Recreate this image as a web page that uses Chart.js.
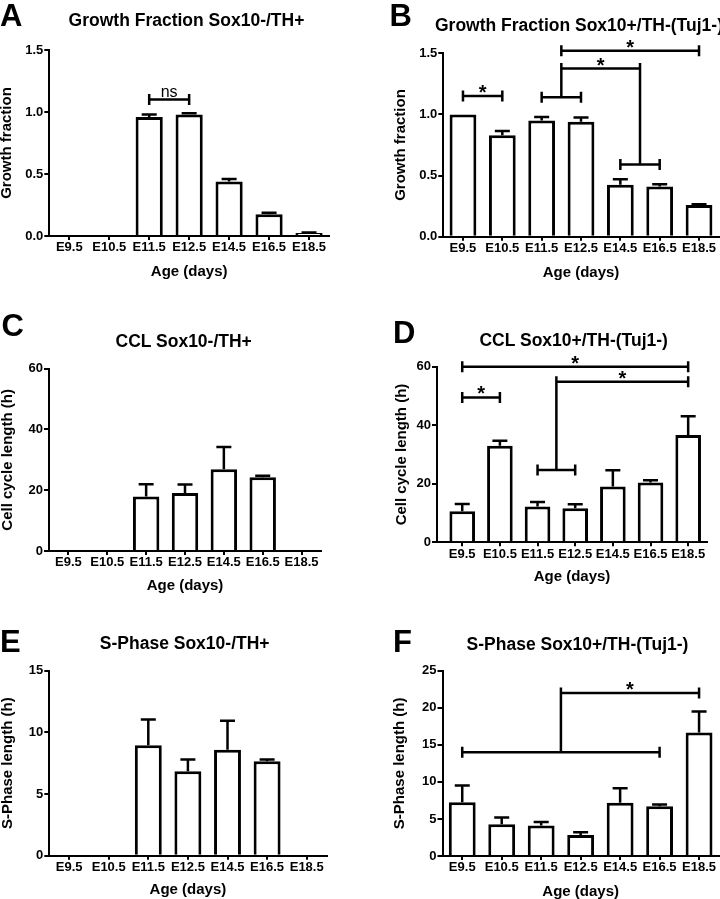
<!DOCTYPE html>
<html>
<head>
<meta charset="utf-8">
<script src="https://cdn.jsdelivr.net/npm/chart.js@4.4.1/dist/chart.umd.min.js"></script>
<style>
  html, body { margin: 0; padding: 0; background: #fff; }
  #fig { position: relative; width: 720px; height: 899px; overflow: hidden; font-family: "Liberation Sans", Arial, sans-serif; color: #000; }
  #fig canvas { position: absolute; }
  .letter { position: absolute; font-weight: bold; font-size: 31px; line-height: 1; }
  .title { position: absolute; font-weight: bold; font-size: 17.5px; line-height: 1; white-space: nowrap; }
</style>
</head>
<body>
<div id="fig"></div>
<script>
// categories
const ages = ["E9.5", "E10.5", "E11.5", "E12.5", "E14.5", "E16.5", "E18.5"];
const xTitle = "Age (days)";

// growth fraction (mean, sem)
const gfThMean = [null, null, 0.96, 0.98, 0.44, 0.175, 0.025];
const gfThSem = [null, null, 0.02, 0.01, 0.02, 0.012, 0.003];
const gfSoxMean = [1.0, 0.83, 0.95, 0.94, 0.425, 0.41, 0.26];
const gfSoxSem = [0, 0.035, 0.03, 0.035, 0.045, 0.018, 0.006];

// cell cycle length (h)
const cclThMean = [null, null, 17.9, 19.1, 26.9, 24.3, null];
const cclThSem = [null, null, 4.1, 2.8, 7.3, 0.5, null];
const cclSoxMean = [10.6, 33.0, 12.2, 11.6, 19.1, 20.4, 36.7];
const cclSoxSem = [2.5, 1.7, 1.6, 1.4, 5.5, 0.8, 6.4];

// S-phase length (h)
const sThMean = [null, null, 8.95, 6.85, 8.6, 7.65, null];
const sThSem = [null, null, 2.1, 0.95, 2.35, 0.15, null];
const sSoxMean = [7.25, 4.3, 4.1, 2.85, 7.2, 6.7, 16.65];
const sSoxSem = [2.25, 0.9, 0.5, 0.35, 1.95, 0.25, 2.85];

// y tick ranges: [max, step]
const gfTicks = [1.5, 0.5];
const cclTicks = [60, 20];
const sThTicks = [15, 5];
const sSoxTicks = [25, 5];

// significance brackets (category names, y in data units)
const bracketsA = [
  { from: "E11.5", to: "E12.5", y: 1.10, text: "ns" },
];
const bracketsB = [
  { from: "E9.5", to: "E10.5", y: 1.15, text: "*" },
  { from: "E11.5", to: "E12.5", y: 1.14 },
  { from: "E14.5", to: "E16.5", y: 0.59 },
  { from: ["E11.5", "E12.5"], to: ["E14.5", "E16.5"], y: 1.375, drop: [1.14, 0.59], text: "*" },
  { from: ["E11.5", "E12.5"], to: "E18.5", y: 1.52, text: "*" },
];
const bracketsD = [
  { from: "E9.5", to: "E18.5", y: 60, text: "*" },
  { from: "E9.5", to: "E10.5", y: 49.5, text: "*" },
  { from: "E11.5", to: "E12.5", y: 24.7 },
  { from: ["E11.5", "E12.5"], to: "E18.5", y: 54.9, drop: [24.7, null], text: "*" },
];
const bracketsF = [
  { from: "E9.5", to: "E16.5", y: 14 },
  { from: ["E9.5", "E16.5"], to: "E18.5", y: 22, drop: [14, null], text: "*" },
];

const panels = [
  { letter: "A", title: "Growth Fraction Sox10-/TH+", yLabel: "Growth fraction",
    mean: gfThMean, sem: gfThSem, ticks: gfTicks, decimals: 1, brackets: bracketsA,
    box: [0, 0, 360, 290], area: [49.3, 50, 329, 236], yTitleX: 7, xTitleY: 271.5,
    letterAt: [0, 26], titleAt: [186.5, 27.3, "center"] },
  { letter: "B", title: "Growth Fraction Sox10+/TH-(Tuj1-)", yLabel: "Growth fraction",
    mean: gfSoxMean, sem: gfSoxSem, ticks: gfTicks, decimals: 1, brackets: bracketsB,
    box: [360, 0, 360, 290], area: [443.3, 53.3, 718.7, 236.7], yTitleX: 400.8, xTitleY: 273,
    letterAt: [389.5, 26], titleAt: [435, 32.3, "left"] },
  { letter: "C", title: "CCL Sox10-/TH+", yLabel: "Cell cycle length (h)",
    mean: cclThMean, sem: cclThSem, ticks: cclTicks, decimals: 0, brackets: [],
    box: [0, 290, 360, 310], area: [49, 368.7, 321, 551], yTitleX: 8, xTitleY: 586,
    letterAt: [1.5, 336.7], titleAt: [183.7, 347.7, "center"] },
  { letter: "D", title: "CCL Sox10+/TH-(Tuj1-)", yLabel: "Cell cycle length (h)",
    mean: cclSoxMean, sem: cclSoxSem, ticks: cclTicks, decimals: 0, brackets: bracketsD,
    box: [360, 290, 360, 310], area: [437, 366.7, 707, 542.3], yTitleX: 402, xTitleY: 577, leftGap: 0.17,
    letterAt: [393, 343.3], titleAt: [573.7, 346.7, "center"] },
  { letter: "E", title: "S-Phase Sox10-/TH+", yLabel: "S-Phase length (h)",
    mean: sThMean, sem: sThSem, ticks: sThTicks, decimals: 0, brackets: [],
    box: [0, 580, 360, 319], area: [49.3, 670.7, 326.5, 855.7], yTitleX: 8.3, xTitleY: 890,
    letterAt: [0, 652.7], titleAt: [184.7, 650, "center"] },
  { letter: "F", title: "S-Phase Sox10+/TH-(Tuj1-)", yLabel: "S-Phase length (h)",
    mean: sSoxMean, sem: sSoxSem, ticks: sSoxTicks, decimals: 0, brackets: bracketsF,
    box: [360, 580, 360, 319], area: [442.5, 670.7, 718.8, 856], yTitleX: 400, xTitleY: 891.7,
    letterAt: [393, 652.7], titleAt: [577.5, 650.7, "center"] },
];

const FONT = "'Liberation Sans', Arial, sans-serif";
const AXIS_TITLE = 15;
Chart.defaults.font.family = FONT;
Chart.defaults.color = "#000";

const fig = document.getElementById("fig");

// error bars (upper only) and significance brackets
function marksPlugin(p) {
  return {
    id: "marks",
    afterDatasetsDraw(chart) {
      const { ctx } = chart;
      const { x, y } = chart.scales;
      ctx.save();
      ctx.strokeStyle = "#000";
      ctx.fillStyle = "#000";
      ctx.lineWidth = 2.5;

      p.mean.forEach((m, i) => {
        const e = p.sem[i];
        if (m == null || !e) return;
        const px = x.getPixelForValue(i);
        const y0 = y.getPixelForValue(m);
        const y1 = y.getPixelForValue(m + e);
        ctx.beginPath();
        ctx.moveTo(px, y0);
        ctx.lineTo(px, y1);
        ctx.moveTo(px - 7.5, y1);
        ctx.lineTo(px + 7.5, y1);
        ctx.stroke();
      });

      const xOf = (k) => Array.isArray(k)
        ? (xOf(k[0]) + xOf(k[1])) / 2
        : x.getPixelForValue(ages.indexOf(k));

      for (const b of p.brackets) {
        const x1 = xOf(b.from);
        const x2 = xOf(b.to);
        const py = y.getPixelForValue(b.y);
        const drop = b.drop || [null, null];
        ctx.beginPath();
        ctx.moveTo(x1, py);
        ctx.lineTo(x2, py);
        [[x1, drop[0]], [x2, drop[1]]].forEach(([ex, d]) => {
          ctx.moveTo(ex, py - 5.5);
          ctx.lineTo(ex, d != null ? y.getPixelForValue(d) : py + 5.5);
        });
        ctx.stroke();
        if (b.text) {
          ctx.textAlign = "center";
          ctx.textBaseline = "alphabetic";
          if (b.text === "*") {
            ctx.font = "bold 20px " + FONT;
            ctx.fillText(b.text, (x1 + x2) / 2, py + 3);
          } else {
            ctx.font = "16px " + FONT;
            ctx.fillText(b.text, (x1 + x2) / 2, py - 2.5);
          }
        }
      }
      ctx.restore();
    },
  };
}

function addText(cls, text, x, baseline, size, align) {
  const d = document.createElement("div");
  d.className = cls;
  d.textContent = text;
  d.style.top = (baseline - 0.8465 * size) + "px";
  d.style.left = x + "px";
  if (align === "center") d.style.transform = "translateX(-50%)";
  fig.appendChild(d);
}

function makePanel(p) {
  const [bx, by, bw, bh] = p.box;
  const [al, at, ar, ab] = p.area;

  const canvas = document.createElement("canvas");
  canvas.width = bw;
  canvas.height = bh;
  canvas.style.left = bx + "px";
  canvas.style.top = by + "px";
  canvas.style.width = bw + "px";
  canvas.style.height = bh + "px";
  fig.appendChild(canvas);

  const half = AXIS_TITLE / 2;
  const padLeft = p.yTitleX - half - bx;
  const yWidth = al - bx - padLeft;
  const xBottom = p.xTitleY + half;
  const xHeight = xBottom - ab;
  const padBottom = by + bh - xBottom;
  const gap = p.leftGap || 0;

  new Chart(canvas, {
    type: "bar",
    data: {
      labels: ages,
      datasets: [{
        data: p.mean,
        backgroundColor: "#fff",
        borderColor: "#000",
        borderWidth: 3,
        categoryPercentage: 1,
        barPercentage: 0.68,
      }],
    },
    options: {
      responsive: false,
      animation: false,
      events: [],
      layout: { padding: { left: padLeft, top: at - by, right: bx + bw - ar, bottom: padBottom } },
      plugins: {
        legend: { display: false },
        tooltip: { enabled: false },
        title: { display: false },
      },
      scales: {
        x: {
          offset: true,
          z: 1,
          grid: { offset: false, drawOnChartArea: false, drawTicks: true, tickLength: 4, color: "#000", lineWidth: 2 },
          border: { display: true, color: "#000", width: 2 },
          ticks: { font: { size: 13, weight: "bold" }, color: "#000", padding: 0, maxRotation: 0, autoSkip: false },
          title: { display: true, text: xTitle, color: "#000", padding: 0,
                   font: { size: AXIS_TITLE, weight: "bold", lineHeight: 1 } },
          afterBuildTicks: (s) => {
            if (gap) { s._startValue -= gap; s._valueRange += gap; }
          },
          afterFit: (s) => { s.height = xHeight; },
        },
        y: {
          min: 0,
          max: p.ticks[0],
          grid: { drawOnChartArea: false, drawTicks: true, tickLength: 5, color: "#000", lineWidth: 2 },
          border: { display: true, color: "#000", width: 2 },
          ticks: { stepSize: p.ticks[1], font: { size: 13, weight: "bold" }, color: "#000", padding: 1,
                   callback: (v) => Number(v).toFixed(p.decimals) },
          title: { display: true, text: p.yLabel, color: "#000", padding: 0,
                   font: { size: AXIS_TITLE, weight: "bold", lineHeight: 1 } },
          afterFit: (s) => { s.width = yWidth; },
        },
      },
    },
    plugins: [marksPlugin(p)],
  });

  addText("letter", p.letter, p.letterAt[0], p.letterAt[1], 31, "left");
  addText("title", p.title, p.titleAt[0], p.titleAt[1], 17.5, p.titleAt[2]);
}

panels.forEach(makePanel);
</script>
</body>
</html>
